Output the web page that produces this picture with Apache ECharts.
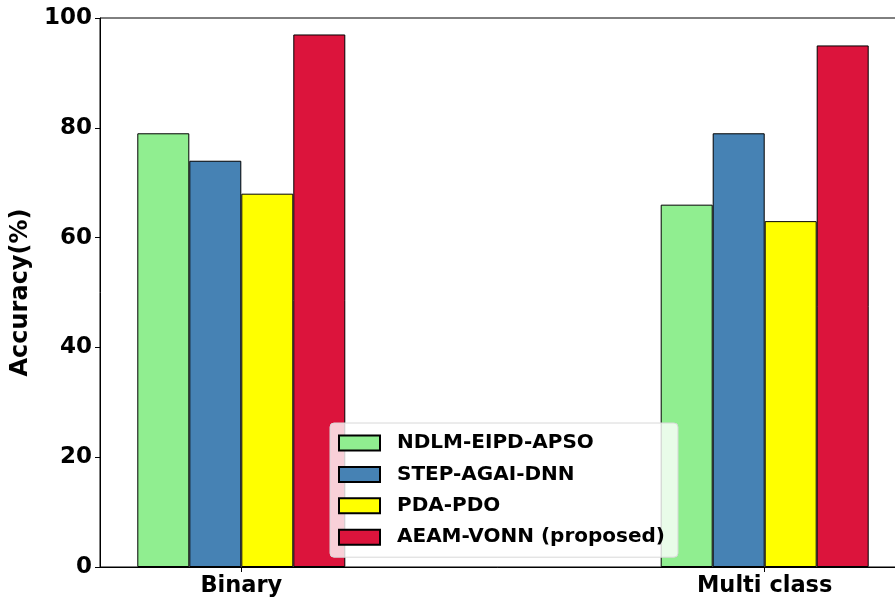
<!DOCTYPE html>
<html><head><meta charset="utf-8">
<script src="https://cdn.jsdelivr.net/npm/echarts@6/dist/echarts.min.js"></script>
<style>html,body{margin:0;padding:0;background:#fff}#c{width:895px;height:602px}</style>
</head><body><div id="c"></div>
<script>
const categories = ['Binary', 'Multi class'];
const seriesNames = ['NDLM-EIPD-APSO', 'STEP-AGAI-DNN', 'PDA-PDO', 'AEAM-VONN (proposed)'];
const ndlm = [79, 66];
const step = [74, 79];
const pda = [68, 63];
const aeam = [97, 95];
const yTicks = [0, 20, 40, 60, 80, 100];
const colors = ['#90EE90', '#4682B4', '#FFFF00', '#DC143C'];
const values = [ndlm, step, pda, aeam];

const chart = echarts.init(document.getElementById('c'));
const font = 'DejaVu Sans';
chart.setOption({
  animation: false,
  grid: { left: 100, width: 806, top: 18, height: 549, outerBoundsMode: 'none', containLabel: false, show: true, borderColor: '#000', borderWidth: 1, backgroundColor: 'transparent' },
  xAxis: {
    type: 'value', min: -0.27, max: 1.27,
    axisLine: { show: true, onZero: false, lineStyle: { color: '#000', width: 1 } },
    splitLine: { show: false },
    axisTick: { show: true, customValues: [0, 1], length: 5, lineStyle: { color: '#000' } },
    axisLabel: { customValues: [0, 1], formatter: v => categories[Math.round(v)], color: '#000', fontFamily: font, fontWeight: 'bold', fontSize: 22.5, margin: 8 }
  },
  yAxis: {
    type: 'value', min: 0, max: 100, interval: 20,
    name: 'Accuracy(%)', nameLocation: 'middle', nameGap: 58,
    nameTextStyle: { color: '#000', fontFamily: font, fontWeight: 'bold', fontSize: 24 },
    axisLine: { show: true, onZero: false, lineStyle: { color: '#000', width: 1 } },
    axisTick: { show: true, length: 5, lineStyle: { color: '#000' } },
    splitLine: { show: false },
    axisLabel: { color: '#000', fontFamily: font, fontWeight: 'bold', fontSize: 23, margin: 8, formatter: v => yTicks.includes(v) ? String(v) : '' }
  },
  legend: {
    orient: 'vertical', left: 330, top: 423,
    icon: 'rect',
    itemWidth: 41, itemHeight: 15, itemGap: 11.4,
    padding: [10, 13, 10, 8],
    backgroundColor: 'rgba(255,255,255,0.8)', borderColor: '#d8d8d8', borderWidth: 1, borderRadius: 4,
    textStyle: { color: '#000', fontFamily: font, fontWeight: 'bold', fontSize: 20, padding: [0, 0, 0, 12] },
    data: seriesNames
  },
  series: seriesNames.map((n, i) => ({
    name: n, type: 'bar', barWidth: 52, barGap: '0%',
    itemStyle: { color: colors[i], borderColor: '#000', borderWidth: 1 },
    data: values[i].map((v, j) => [j, v])
  }))
});
</script></body></html>
